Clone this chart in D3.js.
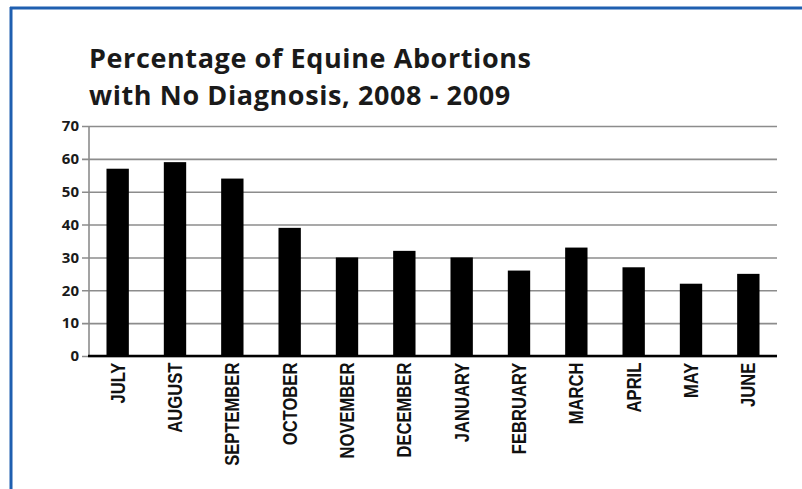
<!DOCTYPE html>
<html><head><meta charset="utf-8">
<script src="https://cdn.jsdelivr.net/npm/d3@7"></script>
<style>
html,body{margin:0;padding:0;background:#fff;}
svg{display:block;}
</style></head>
<body>
<script>
const titleLines = ["Percentage of Equine Abortions", "with No Diagnosis, 2008 - 2009"];
const months = ["JULY","AUGUST","SEPTEMBER","OCTOBER","NOVEMBER","DECEMBER","JANUARY","FEBRUARY","MARCH","APRIL","MAY","JUNE"];
const percentages = [57, 59, 54, 39, 30, 32, 30, 26, 33, 27, 22, 25];
const yTicks = [0, 10, 20, 30, 40, 50, 60, 70];

const W = 802, H = 489;
const svg = d3.select("body").append("svg").attr("width", W).attr("height", H);
svg.append("rect").attr("width", W).attr("height", H).attr("fill", "#fff");

// frame (top and left blue rules)
svg.append("line").attr("x1", 10).attr("x2", W).attr("y1", 8).attr("y2", 8)
  .attr("stroke", "#1f5fb0").attr("stroke-width", 3);
svg.append("line").attr("x1", 11).attr("x2", 11).attr("y1", 7).attr("y2", H)
  .attr("stroke", "#1f5fb0").attr("stroke-width", 3);

// title
const title = svg.append("text").attr("x", 89).attr("y", 68)
  .attr("font-family", "'Open Sans', sans-serif").attr("font-weight", 700)
  .attr("font-size", 27).attr("letter-spacing", 0.6).attr("fill", "#1a1a1a");
titleLines.forEach((t, i) => title.append("tspan").attr("x", 89).attr("y", 68 + i * 37).text(t));

const x = d3.scaleBand().domain(months).range([89, 777]).paddingInner(0.61).paddingOuter(0.305);
const y = d3.scaleLinear().domain([0, 70]).range([356, 126]);

// gridlines via axis
const gy = svg.append("g").attr("transform", "translate(89,0)")
  .call(d3.axisLeft(y).tickValues(yTicks).tickSize(-688).tickPadding(10).tickFormat(d3.format("d")));
gy.select(".domain").remove();
gy.selectAll(".tick line").attr("stroke", "#8c8c8c").attr("stroke-width", 1.6).attr("x1", -7);
gy.selectAll(".tick text").attr("font-family", "'Open Sans', sans-serif").attr("font-weight", 700)
  .attr("font-size", 15).attr("fill", "#1a1a1a");

// y axis line
svg.append("line").attr("x1", 89).attr("x2", 89).attr("y1", y(70)).attr("y2", y(0))
  .attr("stroke", "#8c8c8c").attr("stroke-width", 1.6);

// bars
svg.append("g").selectAll("rect").data(percentages).join("rect")
  .attr("x", (d, i) => x(months[i]))
  .attr("width", x.bandwidth())
  .attr("y", d => y(d))
  .attr("height", d => y(0) - y(d))
  .attr("fill", "#000");

// x axis
const gx = svg.append("g").attr("transform", `translate(0,${y(0)})`)
  .call(d3.axisBottom(x).tickSize(0).tickPadding(0));
gx.select(".domain").attr("stroke", "#000").attr("stroke-width", 2.5).attr("d", "M88,0H777");
gx.selectAll(".tick text")
  .attr("font-family", "'Liberation Sans', Arial, sans-serif")
  .attr("font-weight", 700).attr("font-size", 20).attr("fill", "#111")
  .attr("text-anchor", "end")
  .attr("transform", "rotate(-90) scale(0.83,1)")
  .attr("x", -8).attr("y", 0).attr("dy", "0.35em");
</script>
</body></html>
